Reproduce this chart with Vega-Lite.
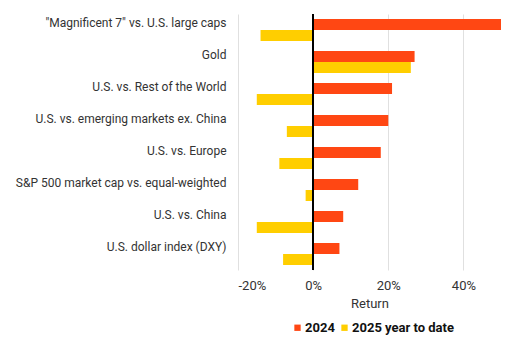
{
  "$schema": "https://vega.github.io/schema/vega-lite/v6.json",
  "width": 263,
  "height": 256,
  "autosize": {"type": "none"},
  "padding": {"left": 238, "top": 14, "right": 29, "bottom": 68},
  "background": "white",
  "config": {
    "font": "Roboto",
    "view": {"stroke": null},
    "axis": {"labelFont": "Roboto", "titleFont": "Roboto", "labelColor": "#333", "titleColor": "#333", "labelFontSize": 13, "titleFontSize": 13, "titleFontWeight": "normal"}
  },
  "data": {
    "values": [
      {"category": "\"Magnificent 7\" vs. U.S. large caps", "series": "2024", "value": 50},
      {"category": "\"Magnificent 7\" vs. U.S. large caps", "series": "2025 year to date", "value": -14},
      {"category": "Gold", "series": "2024", "value": 27},
      {"category": "Gold", "series": "2025 year to date", "value": 26},
      {"category": "U.S. vs. Rest of the World", "series": "2024", "value": 21},
      {"category": "U.S. vs. Rest of the World", "series": "2025 year to date", "value": -15},
      {"category": "U.S. vs. emerging markets ex. China", "series": "2024", "value": 20},
      {"category": "U.S. vs. emerging markets ex. China", "series": "2025 year to date", "value": -7},
      {"category": "U.S. vs. Europe", "series": "2024", "value": 18},
      {"category": "U.S. vs. Europe", "series": "2025 year to date", "value": -9},
      {"category": "S&P 500 market cap vs. equal-weighted", "series": "2024", "value": 12},
      {"category": "S&P 500 market cap vs. equal-weighted", "series": "2025 year to date", "value": -2},
      {"category": "U.S. vs. China", "series": "2024", "value": 8},
      {"category": "U.S. vs. China", "series": "2025 year to date", "value": -15},
      {"category": "U.S. dollar index (DXY)", "series": "2024", "value": 7},
      {"category": "U.S. dollar index (DXY)", "series": "2025 year to date", "value": -8}
    ]
  },
  "layer": [
    {
      "mark": {"type": "bar"},
      "encoding": {
        "y": {
          "field": "category",
          "type": "nominal",
          "sort": null,
          "scale": {"paddingInner": 0.3125, "paddingOuter": 0.156},
          "axis": {"title": null, "domain": false, "ticks": false, "labelPadding": 12, "labelOffset": -7, "labelLimit": 300, "labelFontSize": 12}
        },
        "yOffset": {
          "field": "series",
          "type": "nominal",
          "sort": ["2024", "2025 year to date"],
          "scale": {"paddingInner": 0, "paddingOuter": 0}
        },
        "x": {
          "field": "value",
          "type": "quantitative",
          "scale": {"domain": [-20, 50], "nice": false},
          "axis": {"title": "Return", "values": [-20, 0, 20, 40], "labelExpr": "datum.value + '%'", "domain": false, "ticks": false, "grid": true, "gridColor": "#e0e0e0", "labelPadding": 9, "titlePadding": 5}
        },
        "color": {
          "field": "series",
          "type": "nominal",
          "scale": {"domain": ["2024", "2025 year to date"], "range": ["#ff4713", "#ffce00"]},
          "legend": {"title": null, "orient": "none", "legendX": 53, "legendY": 307, "direction": "horizontal", "symbolType": "square", "symbolSize": 40, "labelFontSize": 13, "labelFontWeight": "bold", "labelColor": "#111", "labelFont": "Roboto", "columnPadding": 3, "symbolStrokeWidth": 0, "labelOffset": 1}
        }
      }
    },
    {
      "mark": {"type": "rule", "color": "black", "strokeWidth": 1.5},
      "encoding": {"x": {"datum": 0}}
    }
  ]
}
